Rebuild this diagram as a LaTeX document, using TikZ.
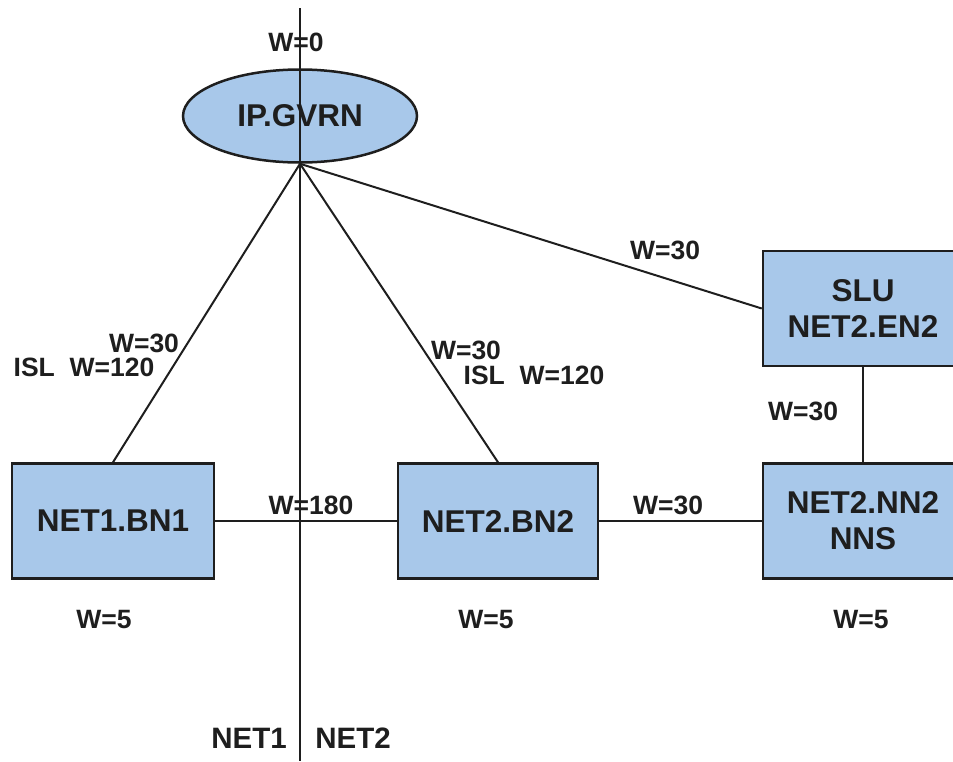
\documentclass[tikz,border=0pt]{standalone}
\usepackage{fontspec}
\setmainfont{Liberation Sans}
\usetikzlibrary{shapes.geometric}
\definecolor{boxblue}{RGB}{168,200,234}
\definecolor{ink}{RGB}{30,30,30}
\begin{document}
\begin{tikzpicture}[x=1pt,y=-1pt,
  nodebox/.style={draw=ink, line width=2.5pt, fill=boxblue, inner sep=0pt,
    font=\fontsize{31.5}{36}\selectfont\bfseries, align=center, text=ink},
  rectbox/.style={nodebox, rectangle, minimum width=200pt, minimum height=115pt},
  lbl/.style={font=\fontsize{26.5}{30}\selectfont\bfseries, inner sep=0pt, text=ink},
  netlbl/.style={lbl, font=\fontsize{29.5}{32}\selectfont\bfseries},
  conn/.style={line width=2pt, draw=ink}]
\useasboundingbox (0,0) rectangle (953,761);
\clip (0,0) rectangle (953,761);
% nodes
\node[nodebox, ellipse, minimum width=234pt, minimum height=93pt] (gvrn) at (300,116) {IP.GVRN};
\node[rectbox, minimum width=202pt] (bn1) at (113,521) {NET1.BN1};
\node[rectbox] (bn2) at (498,521) {NET2.BN2};
\node[rectbox] (slu) at (863,308.5) {SLU\\NET2.EN2};
\node[rectbox] (nn2) at (863,521) {NET2.NN2\\NNS};
% labels
\node[lbl] (l0) at (296,42) {W=0};
\node[lbl] (l1) at (144,343) {W=30};
\node[lbl] (l2) at (84,367) {ISL\ \ W=120};
\node[lbl] (l3) at (466,350) {W=30};
\node[lbl] (l4) at (534,375) {ISL\ \ W=120};
\node[lbl] (l5) at (665,250) {W=30};
\node[lbl] (l6) at (803,411) {W=30};
\node[lbl] (l7) at (311,505) {W=180};
\node[lbl] (l8) at (668,505) {W=30};
\node[lbl] (l9) at (104,620) {W=5};
\node[lbl] (l10) at (486,620) {W=5};
\node[lbl] (l11) at (861,620) {W=5};
\node[netlbl] (net1) at (249,738) {NET1};
\node[netlbl] (net2) at (353,738) {NET2};
% divider
\coordinate (dtop) at (300,8);
\coordinate (dbot) at (300,761);
\draw[conn] (dtop) -- (dbot);
% connectors
\draw[conn] (gvrn.south) -- (bn1.north);
\draw[conn] (gvrn.south) -- (bn2.north);
\draw[conn] (gvrn.south) -- (slu.west);
\draw[conn] (bn1.east) -- (bn2.west);
\draw[conn] (bn2.east) -- (nn2.west);
\draw[conn] (slu.south) -- (nn2.north);
\end{tikzpicture}
\end{document}
